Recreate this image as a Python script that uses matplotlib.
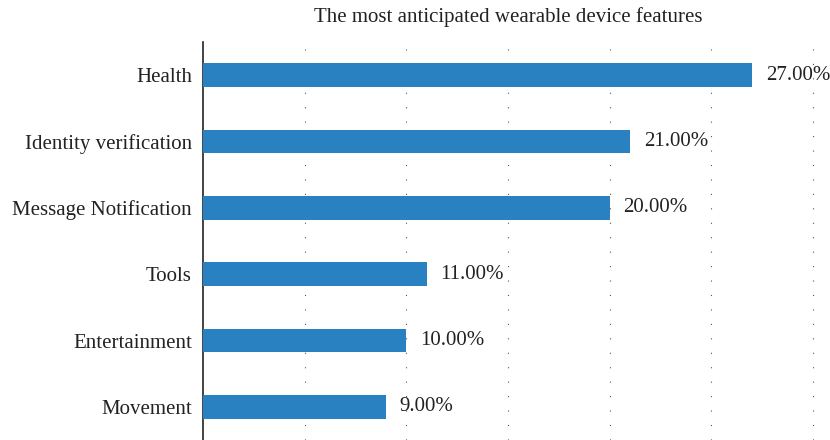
import matplotlib.pyplot as plt

# --- Data ---
features = ['Health', 'Identity verification', 'Message Notification',
            'Tools', 'Entertainment', 'Movement']
shares = [27, 21, 20, 11, 10, 9]

plt.rcParams['font.family'] = ['Liberation Serif', 'DejaVu Serif']

fig = plt.figure(figsize=(8.3, 4.4), dpi=100)
ax = fig.add_axes([203 / 830, 0.0, 620 / 830, 1 - 42 / 440])

y = list(range(len(features)))[::-1]
ax.barh(y, shares, height=0.36, color='#2a81c1', zorder=3)

for yi, v in zip(y, shares):
    ax.annotate(f'{v:.2f}%', xy=(v, yi), xytext=(10, 0), textcoords='offset points',
                va='center', ha='left', fontsize=15, color='#222222')

ax.set_yticks(y)
ax.set_yticklabels(features, fontsize=15, color='#222222')
ax.tick_params(axis='y', length=0, pad=8)
ax.tick_params(axis='x', length=0, labelbottom=False)
ax.set_xlim(0, 30.5)
ax.set_ylim(-0.5, 5.5)
ax.set_xticks([5, 10, 15, 20, 25, 30])
ax.grid(axis='x', color='#555555', linestyle=(0, (1, 12)), linewidth=0.8)

for s in ['top', 'right', 'bottom']:
    ax.spines[s].set_visible(False)
ax.spines['left'].set_color('#222222')
ax.spines['left'].set_linewidth(1.2)

fig.text(508 / 830, 1 - 17 / 440, 'The most anticipated wearable device features',
         ha='center', va='center', fontsize=15, color='#222222')

fig.savefig('out.png', dpi=100)
